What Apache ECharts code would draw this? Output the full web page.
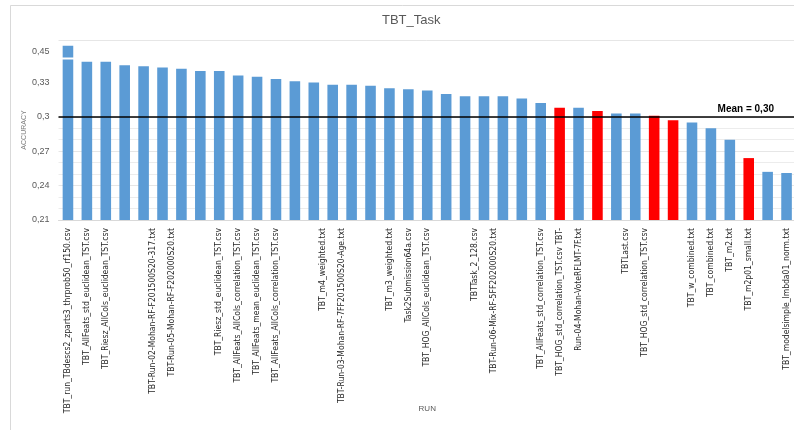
<!DOCTYPE html>
<html>
<head>
<meta charset="utf-8">
<title>TBT_Task</title>
<script src="https://cdn.jsdelivr.net/npm/echarts@6/dist/echarts.min.js"></script>
<style>
  html, body { margin: 0; padding: 0; background: #ffffff; }
  #chart { width: 794px; height: 430px; }
</style>
</head>
<body>
<div id="chart"></div>
<script>
// Submitted runs, sorted by accuracy (empty name = label not shown on the axis)
const runs = [
  'TBT_run_TBdescs2_zparts3_thrprob50_rf150.csv',
  'TBT_AllFeats_std_euclidean_TST.csv',
  'TBT_Riesz_AllCols_euclidean_TST.csv',
  '',
  'TBT-Run-02-Mohan-RF-F201500S20-317.txt',
  'TBT-Run-05-Mohan-RF-F202000S20.txt',
  '',
  '',
  'TBT_Riesz_std_euclidean_TST.csv',
  'TBT_AllFeats_AllCols_correlation_TST.csv',
  'TBT_AllFeats_mean_euclidean_TST.csv',
  'TBT_AllFeats_AllCols_correlation_TST.csv',
  '',
  'TBT_m4_weighted.txt',
  'TBT-Run-03-Mohan-RF-7FF201500S20-Age.txt',
  '',
  '',
  'TBT_m3_weighted.txt',
  'Task2Submission64a.csv',
  'TBT_HOG_AllCols_euclidean_TST.csv',
  '',
  'TBTTask_2_128.csv',
  'TBT-Run-06-Mix-RF-5FF202000S20.txt',
  '',
  '',
  'TBT_AllFeats_std_correlation_TST.csv',
  'TBT_HOG_std_correlation_TST.csv TBT-',
  'Run-04-Mohan-VoteRFLMT-7F.txt',
  '',
  'TBTLast.csv',
  'TBT_HOG_std_correlation_TST.csv',
  '',
  '',
  'TBT_w_combined.txt',
  'TBT_combined.txt',
  'TBT_m2.txt',
  'TBT_m2p01_small.txt',
  '',
  'TBT_modelsimple_lmbda01_norm.txt'
];

// Accuracy of each run
const accuracy = [
  0.455, 0.348, 0.348, 0.345, 0.344, 0.343, 0.342, 0.340, 0.340, 0.336,
  0.335, 0.333, 0.331, 0.330, 0.328, 0.328, 0.327, 0.325, 0.324, 0.323,
  0.320, 0.318, 0.318, 0.318, 0.316, 0.312, 0.308, 0.308, 0.305, 0.303,
  0.303, 0.301, 0.297, 0.295, 0.290, 0.280, 0.264, 0.252, 0.251
];

// Runs drawn in red
const highlightedRuns = [26, 28, 31, 32, 36];

// Accuracy axis ticks and their printed labels
const accuracyTicks = [0.21, 0.24, 0.27, 0.30, 0.33, 0.45];
const accuracyTickLabels = ['0,21', '0,24', '0,27', '0,3', '0,33', '0,45'];

// Reference line
const meanAccuracy = 0.30;
const meanLabel = 'Mean = 0,30';

// Axis labels that sit half a category to the right (wrapped labels)
const halfStepLabels = new Set([4, 5, 13, 14, 21, 22, 29, 30]);

const chart = echarts.init(document.getElementById('chart'), null, { renderer: 'canvas' });

const barData = accuracy.map((v, i) => ({
  value: v,
  itemStyle: { color: highlightedRuns.includes(i) ? '#ff0000' : '#5b9bd5' }
}));

function tickLabel(v) {
  const k = accuracyTicks.findIndex(t => Math.abs(t - v) < 1e-6);
  return k >= 0 ? accuracyTickLabels[k] : '';
}

chart.setOption({
  animation: false,
  backgroundColor: '#ffffff',
  title: {
    text: 'TBT_Task',
    left: 377,
    top: 9,
    textStyle: { fontSize: 13, fontWeight: 'normal', color: '#595959', fontFamily: 'Liberation Sans' }
  },
  graphic: [{
    type: 'rect',
    left: 8,
    top: 3,
    silent: true,
    z: -10,
    shape: { width: 800, height: 440 },
    style: { fill: 'none', stroke: '#d9d9d9', lineWidth: 1 }
  }],
  grid: {
    left: 58.5,
    top: 40,
    width: 737.5,
    height: 180,
    containLabel: false,
    outerBoundsMode: 'none'
  },
  xAxis: {
    type: 'category',
    data: runs,
    name: 'RUN',
    nameLocation: 'middle',
    nameGap: 185,
    nameMoveOverlap: false,
    nameTextStyle: { fontSize: 8, color: '#595959', fontFamily: 'Liberation Sans' },
    axisLine: { lineStyle: { color: '#d9d9d9', width: 1 } },
    axisTick: { show: false },
    axisLabel: {
      interval: 0,
      rotate: 90,
      margin: 8,
      fontSize: 8.5,
      lineHeight: 19,
      color: '#262626',
      fontFamily: 'Liberation Sans Narrow, DejaVu Sans Condensed, Liberation Sans',
      formatter: (v, i) => (v && halfStepLabels.has(i) ? '\n' + v : v)
    },
    splitLine: { show: false }
  },
  yAxis: {
    type: 'value',
    min: 0.21,
    max: 0.46,
    interval: 0.03,
    breaks: [{ start: 0.35, end: 0.445, gap: 0.002 }],
    breakArea: {
      show: true,
      zigzagAmplitude: 0,
      expandOnClick: false,
      itemStyle: { color: '#ffffff', borderColor: '#ffffff', borderWidth: 0, opacity: 1 }
    },
    name: 'ACCURACY',
    nameLocation: 'middle',
    nameGap: 31,
    nameMoveOverlap: false,
    nameTextStyle: { fontSize: 7, color: '#7f7f7f', fontFamily: 'Liberation Sans' },
    axisLine: { show: false },
    axisTick: { show: false },
    axisLabel: {
      customValues: accuracyTicks,
      formatter: tickLabel,
      color: '#595959',
      fontSize: 9,
      margin: 9,
      fontFamily: 'Liberation Sans'
    },
    splitLine: { lineStyle: { color: '#e6e6e6', width: 1 } },
    minorTick: { show: false, splitNumber: 3 },
    minorSplitLine: { show: true, lineStyle: { color: '#ececec', width: 1 } }
  },
  series: [{
    type: 'bar',
    data: barData,
    barWidth: '56%',
    markLine: {
      silent: true,
      symbol: 'none',
      animation: false,
      lineStyle: { color: '#000000', width: 1.5, type: 'solid' },
      label: {
        show: true,
        position: 'insideEndTop',
        distance: [22, 3],
        formatter: meanLabel,
        color: '#000000',
        fontSize: 10,
        fontWeight: 'bold',
        fontFamily: 'Liberation Sans'
      },
      data: [{ yAxis: meanAccuracy }]
    }
  }]
});
</script>
</body>
</html>
